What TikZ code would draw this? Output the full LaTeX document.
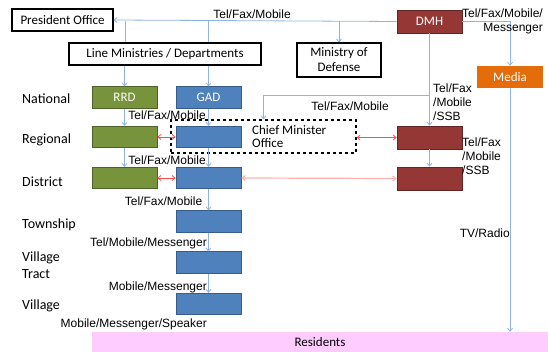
\documentclass[tikz,border=0pt]{standalone}
\usepackage{fontspec}
\setmainfont{Carlito}
\newfontfamily\arialf{Liberation Sans}
\usetikzlibrary{arrows.meta}
\definecolor{rrdgreen}{HTML}{77933C}
\definecolor{rrdborder}{HTML}{4F6228}
\definecolor{gadblue}{HTML}{4F81BD}
\definecolor{gadborder}{HTML}{385D8A}
\definecolor{dmhred}{HTML}{953735}
\definecolor{dmhborder}{HTML}{632523}
\definecolor{mediaorange}{HTML}{E46C0A}
\definecolor{respink}{HTML}{FFCCFF}
\definecolor{conblue}{HTML}{8EB4E3}
\definecolor{conred}{HTML}{FF4D4D}
\definecolor{conpink}{HTML}{FFB0B0}
\tikzset{
  box/.style={rectangle, inner sep=0pt, font=\fontsize{13}{15}\selectfont, align=center},
  blackbox/.style={box, draw=black, line width=1.1pt, fill=white},
  greenbox/.style={box, draw=rrdborder, line width=0.7pt, fill=rrdgreen, text=white, minimum width=65pt, minimum height=21.5pt},
  bluebox/.style={box, draw=gadborder, line width=0.7pt, fill=gadblue, text=white, minimum width=65pt, minimum height=21.5pt},
  redbox/.style={box, draw=dmhborder, line width=0.7pt, fill=dmhred, text=white, minimum width=65pt, minimum height=23pt},
  level/.style={anchor=west, inner sep=0pt, font=\fontsize{14}{17}\selectfont, align=left},
  lbl/.style={inner sep=0pt, font=\arialf\fontsize{12}{14}\selectfont},
  conn/.style={draw=conblue, line width=0.8pt},
  arr/.style={conn, -{Straight Barb[length=3pt,width=5pt]}},
  redarr/.style={draw=conred, line width=0.8pt, {Straight Barb[length=3pt,width=5pt]}-{Straight Barb[length=3pt,width=5pt]}},
  pinkarr/.style={draw=conpink, line width=1.2pt, {Straight Barb[length=3pt,width=5pt]}-{Straight Barb[length=3pt,width=5pt]}}
}
\begin{document}
\begin{tikzpicture}[x=1pt,y=-1pt]
\useasboundingbox (0,0) rectangle (548,352);
% top-level boxes
\node[blackbox, minimum width=101pt, minimum height=22pt] (pres) at (62.5,20) {President Office};
\node[blackbox, minimum width=192pt, minimum height=22pt] (line) at (165,54) {Line Ministries / Departments};
\node[blackbox, minimum width=84pt, minimum height=34pt] (mod) at (339,60) {Ministry of\\Defense};
\node[redbox] (dmh) at (429.5,21.5) {DMH};
\node[box, fill=mediaorange, text=white, minimum width=66pt, minimum height=22pt] (media) at (510,77) {Media};
% Chief minister office
\node[box, draw=black, dashed, line width=1.1pt, minimum width=185pt, minimum height=33pt] (cmo) at (263.5,136.5) {};
\node[box, anchor=west, align=left, font=\fontsize{13}{13.5}\selectfont] (cmot) at (252,136.5) {Chief Minister\\Office};
% level boxes
\node[greenbox] (rrd) at (124.5,97.5) {RRD};
\node[bluebox] (gad) at (208.5,97.5) {GAD};
\node[greenbox] (rrd2) at (124.5,137) {};
\node[bluebox] (gad2) at (208.5,137) {};
\node[greenbox] (rrd3) at (124.5,178) {};
\node[bluebox] (gad3) at (208.5,178) {};
\node[bluebox] (gad4) at (208.5,221.5) {};
\node[bluebox] (gad5) at (208.5,262.5) {};
\node[bluebox] (gad6) at (208.5,304) {};
\node[redbox] (dmh2) at (429.5,137.5) {};
\node[redbox] (dmh3) at (429.5,178.5) {};
\node[box, fill=respink, minimum width=456pt, minimum height=20pt] (res) at (320,342) {Residents};
% level labels
\node[level] (lnat) at (22,99) {National};
\node[level] (lreg) at (22,140) {Regional};
\node[level] (ldis) at (22,182) {District};
\node[level] (ltow) at (22,225) {Township};
\node[level] (lvt) at (22,265.5) {Village\\Tract};
\node[level] (lvil) at (22,306) {Village};
% top connectors
\coordinate (j1) at (125,21.5);
\coordinate (j2) at (208,21.5);
\coordinate (j3) at (339,21.5);
\draw[arr] (dmh.west) -- (pres.east);
\draw[conn] (j1) -- (j1 |- line.north);
\draw[conn] (j2) -- (j2 |- line.north);
\draw[arr] (j3) -- (mod.north);
\draw[arr] (rrd.north |- line.south) -- (rrd.north);
\draw[arr] (gad.north |- line.south) -- (gad.north);
\draw[arr] (dmh.east) -| (media.north);
\draw[arr] (media.south) -- (media.south |- res.north);
% DMH chain
\coordinate (j4) at (429.5,95);
\coordinate (j5) at (263.5,95);
\draw[arr] (dmh.south) -- (dmh2.north);
\draw[arr] (j4) -- (j5) -- (cmo.north);
\draw[arr] (dmh2.south) -- (dmh3.north);
% RRD / GAD chains
\draw[arr] (rrd.south) -- (rrd2.north);
\draw[arr] (rrd2.south) -- (rrd3.north);
\draw[arr] (gad.south) -- (gad2.north);
\draw[arr] (gad2.south) -- (gad3.north);
\draw[arr] (gad3.south) -- (gad4.north);
\draw[arr] (gad4.south) -- (gad5.north);
\draw[arr] (gad5.south) -- (gad6.north);
% red arrows
\draw[redarr] (rrd2.east) -- (gad2.west);
\draw[redarr] (rrd3.east) -- (gad3.west);
\draw[redarr] (cmo.east |- dmh2.west) -- (dmh2.west);
\draw[pinkarr] (gad3.east) -- (dmh3.west);
% connector labels
\node[lbl] (t1) at (252,14) {Tel/Fax/Mobile};
\node[lbl, anchor=east, align=right] (t2) at (543,21) {Tel/Fax/Mobile/\\Messenger};
\node[lbl] (t3) at (350,106) {Tel/Fax/Mobile};
\node[lbl, anchor=west, align=left] (t4) at (433,102) {Tel/Fax\\/Mobile\\/SSB};
\node[lbl, anchor=west, align=left] (t5) at (462,156) {Tel/Fax\\/Mobile\\/SSB};
\node[lbl, anchor=east] (t6) at (510,233) {TV/Radio};
\node[lbl] (t7) at (167,115) {Tel/Fax/Mobile};
\node[lbl] (t8) at (167,160) {Tel/Fax/Mobile};
\node[lbl] (t9) at (163.5,201) {Tel/Fax/Mobile};
\node[lbl, anchor=east] (t10) at (207,243) {Tel/Mobile/Messenger};
\node[lbl, anchor=east] (t11) at (207,287) {Mobile/Messenger};
\node[lbl, anchor=east] (t12) at (207,324) {Mobile/Messenger/Speaker};
\end{tikzpicture}
\end{document}
